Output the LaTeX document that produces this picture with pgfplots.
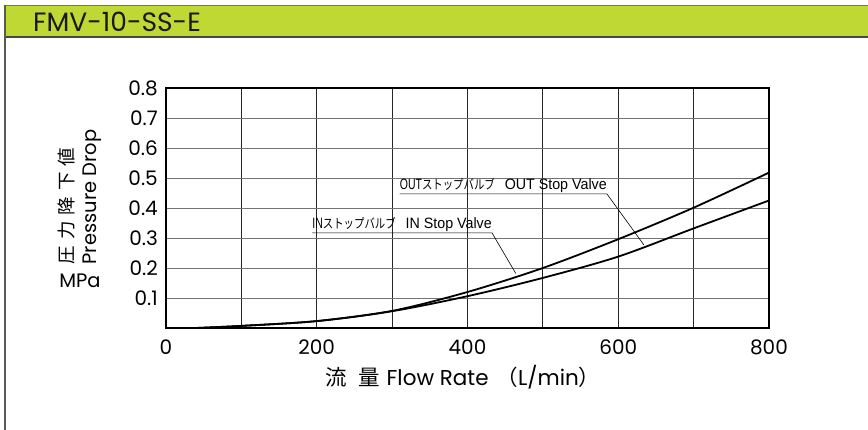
\documentclass[border=0pt]{standalone}
\usepackage{fontspec}
\usepackage{pgfplots}
\pgfplotsset{compat=1.18}
\setmainfont{Poppins}
\newfontfamily\lib[FakeStretch=0.95]{Liberation Sans}
\newfontfamily\libc[FakeStretch=0.7]{Liberation Sans}
\newfontfamily\cjk{Noto Sans CJK JP}
\newfontfamily\cjkc[FakeStretch=0.8]{Noto Sans CJK JP}
\definecolor{headgreen}{RGB}{191,216,52}
\definecolor{headline}{RGB}{70,72,56}
\begin{document}
\begin{tikzpicture}
\path[use as bounding box] (0pt,0pt) rectangle (868pt,430pt);
% header
\fill[headgreen] (5pt,393pt) rectangle (868pt,424.5pt);
\draw[line width=1pt, black!55] (5pt,424.5pt) -- (868pt,424.5pt);
\draw[line width=2pt, headline] (5pt,392.5pt) -- (868pt,392.5pt);
\draw[line width=1.3pt, black!65] (5pt,425pt) -- (5pt,0pt);
\node[anchor=base west, inner sep=0pt, font=\fontsize{26.5}{28}\selectfont, text=black!90] at (33pt,398pt) {FMV-10-SS-E};
% axis labels
\node[rotate=90, inner sep=0pt, font=\fontsize{18.5}{20}\selectfont\cjk] at (66pt,224pt) {圧\hspace{6pt}力\hspace{6pt}降\hspace{6pt}下\hspace{6pt}値};
\node[rotate=90, inner sep=0pt, font=\fontsize{19.5}{21}\selectfont] at (92pt,233pt) {Pressure Drop};
\node[inner sep=0pt, font=\fontsize{19.5}{21}\selectfont] at (80pt,149pt) {MPa};
\node[anchor=base, inner sep=0pt, font=\fontsize{21.5}{23}\selectfont] at (463pt,44pt) {{\cjk 流\hspace{11pt}量}\hspace{7pt}Flow Rate\hspace{8pt}{\cjk （}L/min{\cjk ）}};
\begin{axis}[
  at={(166pt,102pt)}, anchor=south west,
  width=603pt, height=240pt, scale only axis,
  xmin=0, xmax=800, ymin=0, ymax=0.8,
  xtick={0,100,200,300,400,500,600,700,800},
  xticklabels={0,,200,,400,,600,,800},
  ytick={0.1,0.2,0.3,0.4,0.5,0.6,0.7,0.8},
  yticklabel style={/pgf/number format/fixed, /pgf/number format/precision=1, /pgf/number format/fixed zerofill, inner sep=0pt, anchor=east, xshift=-8pt},
  xticklabel style={inner sep=0pt, anchor=north, yshift=-12pt},
  /pgf/number format/assume math mode=true,
  tick label style={font=\fontsize{20}{22}\selectfont},
  major tick length=0pt,
  xmajorgrids, ymajorgrids,
  x grid style={black!85, line width=0.8pt},
  y grid style={black!55, line width=0.8pt},
  axis line style={black, line width=1.3pt},
  clip=false,
]
% OUT stop valve (upper curve)
\addplot[black, line width=1.8pt, smooth] coordinates {
 (40,0) (100,0.007) (200,0.023) (300,0.057) (400,0.12) (500,0.2) (600,0.296) (700,0.401) (800,0.518)};
% IN stop valve (lower curve)
\addplot[black, line width=1.8pt, smooth] coordinates {
 (40,0) (100,0.007) (200,0.023) (300,0.056) (400,0.106) (500,0.167) (600,0.238) (700,0.332) (800,0.425)};
% annotations
\node[anchor=south west, inner xsep=0pt, inner ysep=1.2pt, font=\fontsize{15}{17}\selectfont\lib] (outl) at (axis cs:310,0.447)
  {{\libc OUT}{\cjkc\fontsize{13}{16}\selectfont ストップバルブ}\hspace{10pt}OUT Stop Valve};
\draw[line width=0.6pt] (outl.south west) -- (outl.south east) -- (axis cs:634,0.277);
\node[anchor=south west, inner xsep=0pt, inner ysep=1.2pt, font=\fontsize{15}{17}\selectfont\lib] (inl) at (axis cs:194,0.317)
  {{\libc IN}{\cjkc\fontsize{13}{16}\selectfont ストップバルブ}\hspace{10pt}IN Stop Valve};
\draw[line width=0.6pt] (inl.south west) -- (inl.south east) -- (axis cs:464,0.182);
\end{axis}
\end{tikzpicture}
\end{document}
